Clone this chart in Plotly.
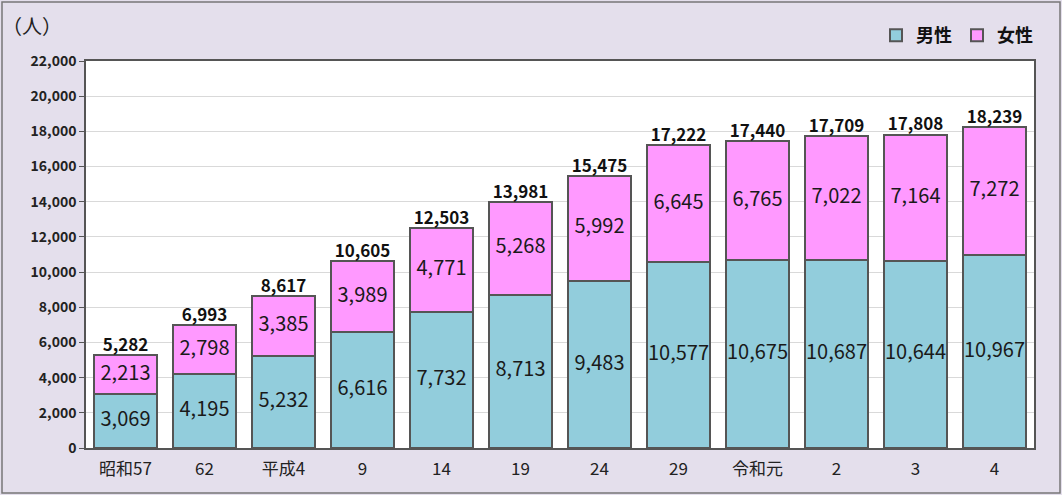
import plotly.graph_objects as go

categories = ["昭和57", "62", "平成4", "9", "14", "19", "24", "29", "令和元", "2", "3", "4"]
male = [3069, 4195, 5232, 6616, 7732, 8713, 9483, 10577, 10675, 10687, 10644, 10967]
female = [2213, 2798, 3385, 3989, 4771, 5268, 5992, 6645, 6765, 7022, 7164, 7272]
totals = [5282, 6993, 8617, 10605, 12503, 13981, 15475, 17222, 17440, 17709, 17808, 18239]
y_ticks = list(range(0, 22001, 2000))

FONT = "Noto Sans CJK JP"
W, H = 1062, 495
L, R, T, B = 86, 28, 61, 47
pw, ph = W - L - R, H - T - B

fig = go.Figure()
fig.add_trace(go.Bar(
    x=categories, y=male, name="<b>男性</b>",
    marker=dict(color="#92CDDC", line=dict(color="#555555", width=2)),
    hoverinfo="y",
))
fig.add_trace(go.Bar(
    x=categories, y=female, name="<b>女性</b>",
    marker=dict(color="#FF99FF", line=dict(color="#555555", width=2)),
    hoverinfo="y",
))
# inner value labels at segment centres
fig.add_trace(go.Scatter(
    x=categories, y=[m / 2 for m in male], mode="text",
    text=[f"{v:,}" for v in male], textposition="middle center",
    textfont=dict(size=20, color="#1a1a1a", family=FONT),
    showlegend=False, hoverinfo="skip", cliponaxis=False,
))
fig.add_trace(go.Scatter(
    x=categories, y=[m + f / 2 for m, f in zip(male, female)], mode="text",
    text=[f"{v:,}" for v in female], textposition="middle center",
    textfont=dict(size=20, color="#1a1a1a", family=FONT),
    showlegend=False, hoverinfo="skip", cliponaxis=False,
))
fig.add_trace(go.Scatter(
    x=categories, y=totals, mode="text",
    text=[f"<b>{v:,}</b>" for v in totals], textposition="top center",
    textfont=dict(size=17, color="#111111", family=FONT),
    showlegend=False, hoverinfo="skip", cliponaxis=False,
))

def px_x(p):
    return (p - L) / pw

def px_y(p):
    return (H - B - p) / ph

fig.update_layout(
    width=W, height=H,
    margin=dict(l=L, r=R, t=T, b=B, autoexpand=False),
    barmode="stack", bargap=0.2,
    paper_bgcolor="#E4DFEC", plot_bgcolor="#FFFFFF",
    font=dict(family=FONT, color="#222222"),
    legend=dict(orientation="h", x=px_x(876), y=px_y(17), xanchor="left", yanchor="top",
                font=dict(size=18, family=FONT, color="#111111"), bgcolor="rgba(0,0,0,0)",
                itemwidth=30, traceorder="normal"),
    xaxis=dict(range=[-0.5, len(categories) - 0.5],
               showline=True, linecolor="#555555", linewidth=1.5, mirror=True,
               tickfont=dict(size=17, family=FONT, color="#222222"), ticks="",
               ticklabelstandoff=5),
    yaxis=dict(range=[0, 22000], tickvals=y_ticks, ticktext=[f"<b>{v:,}</b>" for v in y_ticks],
               showgrid=True, gridcolor="#D9D9D9", gridwidth=1,
               showline=True, linecolor="#555555", linewidth=1.5, mirror=True,
               ticks="outside", ticklen=5, tickcolor="#555555",
               tickfont=dict(size=14, family=FONT, color="#222222")),
    shapes=[dict(type="rect", xref="paper", yref="paper",
                 x0=px_x(2), x1=px_x(1060), y0=px_y(493), y1=px_y(2),
                 line=dict(color="#777777", width=1.5), fillcolor="rgba(0,0,0,0)", layer="below")],
    annotations=[dict(text="（人）", xref="paper", yref="paper", x=px_x(0), y=px_y(26),
                      xanchor="left", yanchor="middle", showarrow=False,
                      font=dict(size=20, family=FONT, color="#222222"))],
)

fig.write_html("out.html", config={"displayModeBar": False},
               post_script="document.body.style.margin='0';document.body.style.overflow='hidden';")
